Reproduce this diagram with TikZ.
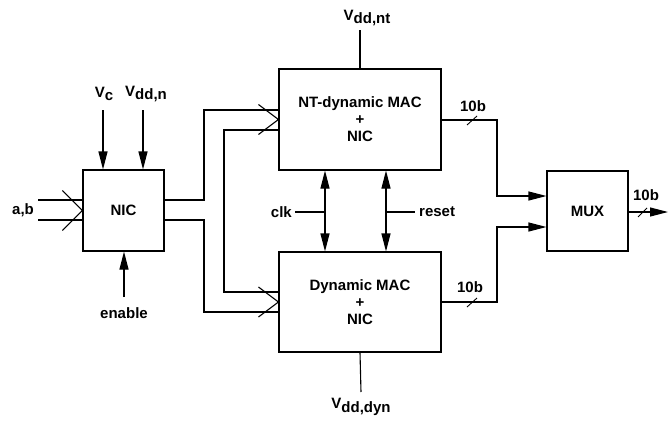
\documentclass[tikz,border=0pt]{standalone}
\usepackage{fontspec}
\setmainfont{Liberation Sans}
\usetikzlibrary{arrows.meta,calc}
\newcommand{\Vsub}[1]{V\raisebox{-0.45ex}{#1}}
\tikzset{
  wire/.style={line width=1.1pt},
  arr/.style={wire,-{Triangle[length=18pt,width=9pt]}},
  darr/.style={wire,{Triangle[length=18pt,width=9pt]}-{Triangle[length=18pt,width=9pt]}},
  blk/.style={draw,line width=1.1pt,inner sep=0pt,align=center,font=\bfseries\fontsize{15}{17}\selectfont},
  lbl/.style={inner sep=0pt,font=\bfseries\fontsize{15}{17}\selectfont},
}
\begin{document}
\begin{tikzpicture}[x=1pt,y=-1pt]
\useasboundingbox (0,0) rectangle (670,421);
% blocks
\node[blk,minimum width=81,minimum height=81] (nic) at (123.5,210.5) {NIC};
\node[blk,minimum width=162,minimum height=101] (nt) at (360,119.5) {NT-dynamic MAC\\+\\NIC};
\node[blk,minimum width=162,minimum height=100] (dyn) at (360,302) {Dynamic MAC\\+\\NIC};
\node[blk,minimum width=81,minimum height=80] (mux) at (587.5,211) {MUX};
% labels
\node[lbl] (ab) at (23,210) {a,b};
\node[lbl] (vc) at (104,94) {\Vsub{c}};
\node[lbl] (vddn) at (146,94) {\Vsub{dd,n}};
\node[lbl] (en) at (124,313) {enable};
\node[lbl] (vddnt) at (367,18) {\Vsub{dd,nt}};
\node[lbl] (vdddyn) at (361,407) {\Vsub{dd,dyn}};
\node[lbl,anchor=east] (clk) at (292,212) {clk};
\node[lbl,anchor=west] (rst) at (419,212) {reset};
\node[lbl] (b1) at (473,106) {10b};
\node[lbl] (b2) at (470,287) {10b};
\node[lbl] (b3) at (646,195) {10b};
% coordinates
\coordinate (abs1) at (38,200);
\coordinate (abs2) at (38,220);
\coordinate (vcs) at (103,110);
\coordinate (vdns) at (143,110);
\coordinate (ens) at (124,297);
\coordinate (vntt) at (360,30);
\coordinate (vdyb) at (361,392);
\coordinate (muxout) at (668,212);
% a,b inputs
\draw[wire] (abs1) -- (abs1 -| nic.west);
\draw[wire] (abs2) -- (abs2 -| nic.west);
\draw[wire] ($(nic.west)+(-20,-20)$) -- (nic.west) -- ($(nic.west)+(-20,20)$);
% supply / enable
\draw[arr] (vcs) -- (vcs |- nic.north);
\draw[arr] (vdns) -- (vdns |- nic.north);
\draw[arr] (ens) -- (ens |- nic.south);
\draw[wire] (vntt) -- (nt.north);
\draw[wire] (vdyb) -- (dyn.south);
% NIC to MACs
\draw[wire] (nic.east |- 0,200) -- (204,200) -- (204,110) -- (nt.west |- 0,110);
\draw[wire] (nic.east |- 0,220) -- (204,220) -- (204,312) -- (dyn.west |- 0,312);
\draw[wire] (nt.west |- 0,130) -- (224,130) -- (224,292) -- (dyn.west |- 0,292);
\draw[wire] ($(nt.west)+(-20,-15)$) -- (nt.west) -- ($(nt.west)+(-20,15)$);
\draw[wire] ($(dyn.west)+(-20,-15)$) -- (dyn.west) -- ($(dyn.west)+(-20,15)$);
% clk / reset
\draw[darr] (nt.south -| 325,0) -- (dyn.north -| 325,0);
\draw[darr] (nt.south -| 386,0) -- (dyn.north -| 386,0);
\draw[wire] ($(clk.east)+(3,0)$) -- (325,212);
\draw[wire] (386,212) -- ($(rst.west)+(-4,0)$);
% outputs to MUX
\draw[arr] (nt.east |- 0,120) -- (497,120) -- (497,196) -- (mux.west |- 0,196);
\draw[arr] (dyn.east |- 0,302) -- (497,302) -- (497,227) -- (mux.west |- 0,227);
\draw[arr] (mux.east |- 0,212) -- (muxout);
% bus slashes
\draw[line width=0.9pt] (467,125) -- (477,116);
\draw[line width=0.9pt] (467,307) -- (477,298);
\draw[line width=0.9pt] (638,217) -- (647,208);
\end{tikzpicture}
\end{document}
